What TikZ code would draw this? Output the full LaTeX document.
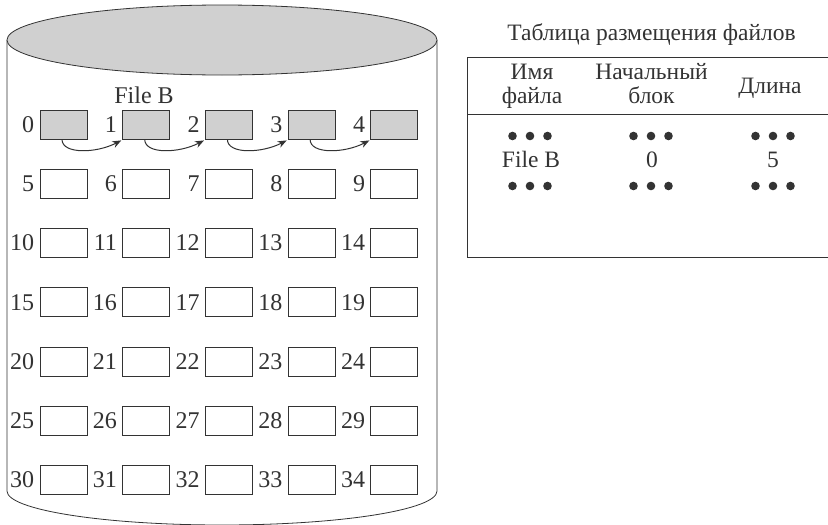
\documentclass[tikz,border=0pt]{standalone}
\usepackage{fontspec}
\setmainfont{Liberation Serif}
\usetikzlibrary{arrows.meta}
\definecolor{ink}{HTML}{333333}
\definecolor{shade}{HTML}{D0D0D0}
\tikzset{
  blk/.style={draw=ink, minimum width=47pt, minimum height=29pt, inner sep=0pt, line width=0.8pt},
  num/.style={inner sep=0pt, text=ink, font=\fontsize{24}{28}\selectfont},
  tab/.style={inner sep=0pt, text=ink, font=\fontsize{23.5}{27}\selectfont, anchor=base},
  arr/.style={draw=ink, line width=1pt, -{Stealth[length=9pt,width=7pt]}},
}
\begin{document}
\begin{tikzpicture}[x=1pt,y=-1pt,line width=0.8pt,color=ink]
\useasboundingbox (0,0) rectangle (828,525);
% cylinder
\draw[fill=white] (7,40) -- (7,491) .. controls (7,509.8) and (103.3,525) .. (222,525)
  .. controls (340.7,525) and (437,509.8) .. (437,491) -- (437,40);
\draw[fill=shade] (222,40) ellipse [x radius=215pt, y radius=35pt];
% blocks
\foreach \c in {0,...,4}{
  \node[blk, fill=shade] (b\c) at ({63.5+82.7*\c},124.5) {};
  \node[num, anchor=east] (l\c) at ([xshift=-5pt]b\c.west) {\c};
}
\foreach \r in {1,...,6}{
  \foreach \c in {0,...,4}{
    \pgfmathtruncatemacro\n{\r*5+\c}
    \node[blk] (b\n) at ({63.5+82.7*\c},{124.5+59.25*\r}) {};
    \node[num, anchor=east] (l\n) at ([xshift=-5pt]b\n.west) {\n};
  }
}
\node[num, anchor=base] (fileb) at (144,103.5) {File B};
\foreach \i/\j in {0/1,1/2,2/3,3/4}{
  \draw[arr] ([xshift=-1.5pt]b\i.south) .. controls +(0,15) and +(-25,13) .. ([shift={(-1,1)}]b\j.south west);
}
% table
\node[tab] (title) at (651.5,40) {Таблица размещения файлов};
\draw (467,57) rectangle (828,257);
\draw (467,114.5) -- (828,114.5);
\node[tab] (h1a) at (532,79) {Имя};
\node[tab] (h1b) at (532,103) {файла};
\node[tab] (h2a) at (651.5,79) {Начальный};
\node[tab] (h2b) at (651.5,103) {блок};
\node[tab] (h3) at (770,93) {Длина};
\foreach \x in {530,651,773}{
  \foreach \y in {136,186}{
    \fill (\x-17.5,\y) circle (4.3pt) (\x,\y) circle (4.3pt) (\x+17.5,\y) circle (4.3pt);
  }
}
\node[tab] (r1) at (531,167.5) {File B};
\node[tab] (r2) at (652,167.5) {0};
\node[tab] (r3) at (773,167.5) {5};
\end{tikzpicture}
\end{document}
